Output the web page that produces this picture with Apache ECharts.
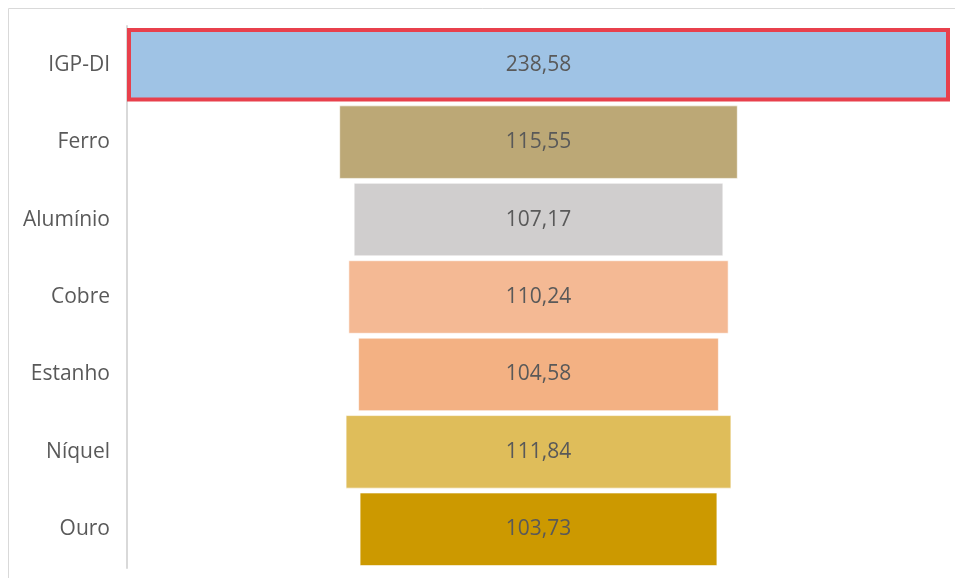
<!DOCTYPE html>
<html>
<head>
<meta charset="utf-8">
<script src="https://cdn.jsdelivr.net/npm/echarts@6/dist/echarts.min.js"></script>
<style>html,body{margin:0;padding:0;background:#fff;}#c{width:955px;height:578px;}</style>
</head>
<body>
<div id="c"></div>
<script>
const categories = ['IGP-DI', 'Ferro', 'Alumínio', 'Cobre', 'Estanho', 'Níquel', 'Ouro'];
const values = [238.58, 115.55, 107.17, 110.24, 104.58, 111.84, 103.73];
const colors = ['#9fc3e5', '#bca876', '#d0cece', '#f4b994', '#f3b183', '#dfbd5a', '#cc9900'];

const maxV = Math.max(...values);
const offsets = values.map(v => (maxV - v) / 2);
const fmt = v => v.toFixed(2).replace('.', ',');

const chart = echarts.init(document.getElementById('c'));
chart.setOption({
  animation: false,
  graphic: [{
    type: 'rect', silent: true, z: -10,
    shape: { x: 8.5, y: 8.5, width: 1000, height: 1000 },
    style: { fill: 'none', stroke: '#d9d9d9', lineWidth: 1 }
  }],
  grid: { left: 127, right: 5, top: 26, bottom: 10 },
  xAxis: { type: 'value', min: 0, max: maxV, show: false },
  yAxis: {
    type: 'category', data: categories, inverse: true,
    axisLine: { lineStyle: { color: '#d9d9d9', width: 2 } },
    axisTick: { show: false },
    axisLabel: { color: '#595959', fontSize: 21, fontFamily: 'Open Sans', margin: 17 }
  },
  series: [
    {
      type: 'bar', stack: 'f', data: offsets, silent: true,
      itemStyle: { color: 'rgba(0,0,0,0)' },
      barCategoryGap: '5%'
    },
    {
      type: 'bar', stack: 'f', barCategoryGap: '5%',
      data: values.map((v, i) => ({
        value: v,
        itemStyle: i === 0
          ? { color: colors[i], borderColor: '#e8404c', borderWidth: 4 }
          : { color: colors[i], borderColor: 'rgba(255,255,255,0.6)', borderWidth: 1 }
      })),
      label: {
        show: true, position: 'inside', color: '#595959', fontSize: 21,
        fontFamily: 'Open Sans', formatter: p => fmt(p.value)
      }
    }
  ]
});
</script>
</body>
</html>
